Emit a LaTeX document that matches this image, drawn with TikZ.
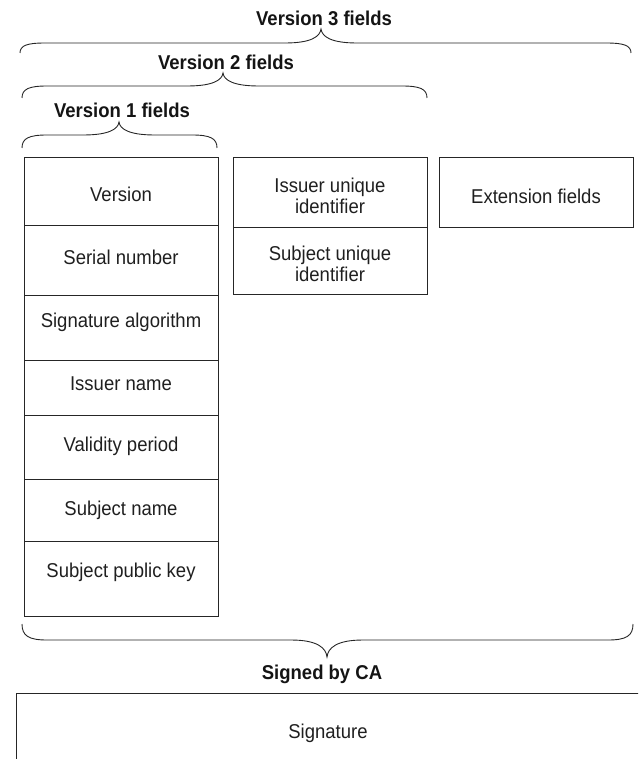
\documentclass[tikz,border=0pt]{standalone}
\usepackage{fontspec}
\setmainfont{Liberation Sans}[FakeStretch=0.925]
\newcommand{\curlybrace}[6]{% #1 x0, #2 x1, #3 xt, #4 yend, #5 yh, #6 ytip
  \draw[brc] (#1,#4) .. controls (#1,{#5+0.25*(#4-#5)}) and (#1+7,#5) .. (#1+25,#5)
    -- (#3-36,#5) .. controls (#3-10,#5) and (#3-1,{#5+0.45*(#6-#5)}) .. (#3,#6)
    .. controls (#3+1,{#5+0.45*(#6-#5)}) and (#3+10,#5) .. (#3+36,#5)
    -- (#2-25,#5) .. controls (#2-7,#5) and (#2,{#5+0.25*(#4-#5)}) .. (#2,#4);}
\begin{document}
\begin{tikzpicture}[x=1pt,y=-1pt,
  box/.style={draw=black!85, line width=0.9pt, inner sep=0pt, minimum width=194pt},
  txt/.style={font=\fontsize{20}{21}\selectfont, text=black!88, inner sep=0pt, text height=14.3pt, text depth=0pt},
  txttwo/.style={font=\fontsize{20}{20.5}\selectfont, text=black!88, inner sep=0pt, align=center},
  head/.style={font=\bfseries\fontsize{20}{21}\selectfont, text=black!92, inner sep=0pt, text height=14.3pt, text depth=0pt},
  brc/.style={draw=black!85, line width=0.9pt}]
\useasboundingbox (0,0) rectangle (638,759);
\clip (0,0) rectangle (638,759);
% left column
\node[box, minimum height=68pt] (r1) at (121,191) {};
\node[box, minimum height=70pt] (r2) at (121,260) {};
\node[box, minimum height=65pt] (r3) at (121,327.5) {};
\node[box, minimum height=55pt] (r4) at (121,387.5) {};
\node[box, minimum height=64pt] (r5) at (121,447) {};
\node[box, minimum height=62pt] (r6) at (121,510) {};
\node[box, minimum height=75pt] (r7) at (121,578.5) {};
\node[txt] (t1) at (121,194) {Version};
\node[txt] (t2) at (121,257) {Serial number};
\node[txt] (t3) at (121,320) {Signature algorithm};
\node[txt] (t4) at (121,383) {Issuer name};
\node[txt] (t5) at (121,444) {Validity period};
\node[txt] (t6) at (121,508) {Subject name};
\node[txt] (t7) at (121,570) {Subject public key};
% middle column
\node[box, minimum height=69.5pt] (m1) at (330,192.25) {};
\node[box, minimum height=67pt] (m2) at (330,260.5) {};
\node[txttwo] (mt1) at (330,196) {Issuer unique\\identifier};
\node[txttwo] (mt2) at (330,264) {Subject unique\\identifier};
% right column
\node[box, minimum height=69.5pt] (e1) at (536,192.25) {};
\node[txt] (et1) at (536,196) {Extension fields};
% headings
\node[head] (h3) at (324,18) {Version 3 fields};
\node[head] (h2) at (226,62) {Version 2 fields};
\node[head] (h1) at (122,110) {Version 1 fields};
\node[head] (sca) at (322,672) {Signed by CA};
% braces
\curlybrace{20}{631}{321}{53}{43}{29}
\curlybrace{22}{427}{223}{98}{86}{73}
\curlybrace{22}{217}{119}{148}{135}{122}
\curlybrace{22}{633}{327}{624}{640}{657}
% signature
\node[draw=black!85, line width=0.9pt, inner sep=0pt, minimum width=644pt, minimum height=97pt] (sigbox) at (338,741.5) {};
\node[txt] (sigt) at (328,731) {Signature};
\end{tikzpicture}
\end{document}
